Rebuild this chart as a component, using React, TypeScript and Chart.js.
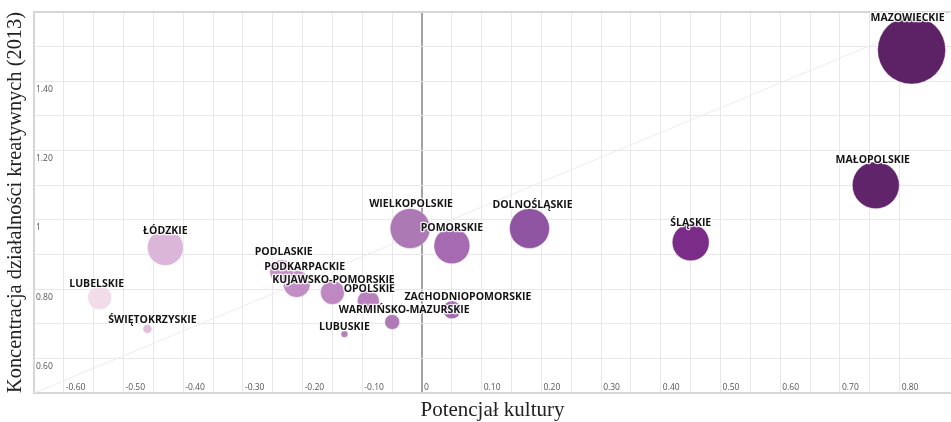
import React, { useEffect, useRef } from "react";
import { Chart, registerables } from "chart.js";

Chart.register(...registerables);

// ---- data ----
const regions = [
  "MAZOWIECKIE",
  "MAŁOPOLSKIE",
  "ŚLĄSKIE",
  "DOLNOŚLĄSKIE",
  "WIELKOPOLSKIE",
  "POMORSKIE",
  "ZACHODNIOPOMORSKIE",
  "WARMIŃSKO-MAZURSKIE",
  "LUBUSKIE",
  "OPOLSKIE",
  "KUJAWSKO-POMORSKIE",
  "PODKARPACKIE",
  "PODLASKIE",
  "ŁÓDZKIE",
  "LUBELSKIE",
  "ŚWIĘTOKRZYSKIE",
];
const culturePotential = [0.82, 0.76, 0.45, 0.18, -0.02, 0.05, 0.05, -0.05, -0.13, -0.09, -0.15, -0.21, -0.235, -0.43, -0.54, -0.46];
const creativeConcentration = [1.49, 1.1, 0.935, 0.975, 0.975, 0.925, 0.74, 0.705, 0.67, 0.765, 0.79, 0.815, 0.85, 0.92, 0.775, 0.685];
const bubbleSize = [34, 23.5, 18.5, 20, 20, 18, 9, 7.5, 3.5, 11, 12, 13.5, 12, 18, 12, 4.5];

const trendX = [-0.65, 0.886];
const trendY = [0.5, 1.6];

const xTickValues = [-0.6, -0.5, -0.4, -0.3, -0.2, -0.1, 0, 0.1, 0.2, 0.3, 0.4, 0.5, 0.6, 0.7, 0.8];
const xTickLabels = ["-0.60", "-0.50", "-0.40", "-0.30", "-0.20", "-0.10", "0", "0.10", "0.20", "0.30", "0.40", "0.50", "0.60", "0.70", "0.80"];
const yTickValues = [0.6, 0.8, 1, 1.2, 1.4];
const yTickLabels = ["0.60", "0.80", "1", "1.20", "1.40"];

// ---- styles ----
const bubbleColors = [
  "#5c2265", "#5f2469", "#7b2b88", "#8f55a2", "#ad79b5", "#a56ab1", "#a56cb1", "#b07ab6",
  "#b380b8", "#b880bd", "#be88c2", "#c28cc5", "#c590c7", "#dcb6d8", "#f2dcea", "#e2c0dc",
];
// label centre offset from bubble centre (px)
const labelOffsets: [number, number][] = [
  [-4, -32], [-3, -25], [0, -19], [3, -23], [1, -24], [0, -18], [16, -13], [12, -12],
  [0, -7], [1, -12], [1, -13], [8, -17], [2, -20], [0, -17], [-3, -14], [5, -9],
];

const findLabel = (v: number, values: number[], labels: string[]) => {
  for (let i = 0; i < values.length; i++) {
    if (Math.abs(values[i] - v) < 1e-6) return labels[i];
  }
  return "";
};

const labelPlugin = {
  id: "bubbleLabels",
  afterDatasetsDraw(chart: any) {
    const meta = chart.getDatasetMeta(0);
    const ctx = chart.ctx as CanvasRenderingContext2D;
    ctx.save();
    ctx.font = 'bold 10.5px "Open Sans"';
    ctx.textAlign = "center";
    ctx.textBaseline = "middle";
    ctx.lineJoin = "round";
    meta.data.forEach((el: any, i: number) => {
      const [dx, dy] = labelOffsets[i];
      const x = el.x + dx;
      const y = el.y + dy;
      ctx.strokeStyle = "rgba(255,255,255,0.85)";
      ctx.lineWidth = 2.5;
      ctx.strokeText(regions[i], x, y);
      ctx.fillStyle = "#141414";
      ctx.fillText(regions[i], x, y);
    });
    ctx.restore();
  },
};

export default function App() {
  const ref = useRef<HTMLCanvasElement | null>(null);

  useEffect(() => {
    if (!ref.current) return;
    const chart = new Chart(ref.current, {
      type: "bubble",
      data: {
        datasets: [
          {
            type: "bubble",
            label: "Województwa",
            data: regions.map((_, i) => ({ x: culturePotential[i], y: creativeConcentration[i], r: bubbleSize[i] })),
            backgroundColor: bubbleColors,
            borderColor: "rgba(255,255,255,0.45)",
            borderWidth: 1,
            order: 0,
          } as any,
          {
            type: "line",
            label: "trend",
            data: trendX.map((x, i) => ({ x, y: trendY[i] })),
            borderColor: "#ececec",
            borderWidth: 1,
            pointRadius: 0,
            fill: false,
            order: 1,
          } as any,
        ],
      },
      options: {
        responsive: false,
        animation: false,
        layout: { autoPadding: false, padding: { left: 0, top: 12, right: 0, bottom: 0 } },
        plugins: { legend: { display: false }, tooltip: { enabled: false } },
        scales: {
          x: {
            type: "linear",
            position: "bottom",
            min: -0.65,
            max: 0.886,
            ticks: {
              stepSize: 0.05,
              autoSkip: false,
              maxRotation: 0,
              mirror: true,
              align: "start",
              labelOffset: 2,
              padding: 0,
              color: "#555",
              font: { family: "Open Sans", size: 8.5 },
              callback: (v: any) => findLabel(Number(v), xTickValues, xTickLabels),
            },
            grid: {
              drawTicks: false,
              color: (c: any) => (c.tick && Math.abs(c.tick.value) < 1e-6 ? "#a3a3a3" : "#e8e8e8"),
              lineWidth: (c: any) => (c.tick && Math.abs(c.tick.value) < 1e-6 ? 2 : 1),
            },
            border: { display: true, color: "#d6d6d6", width: 2 },
            title: {
              display: true,
              text: "Potencjał kultury",
              color: "#222",
              font: { family: "Liberation Serif", size: 21 },
              padding: { top: 5, bottom: -1.2 },
            },
          },
          y: {
            type: "linear",
            min: 0.5,
            max: 1.6,
            ticks: {
              stepSize: 0.1,
              autoSkip: false,
              mirror: true,
              padding: 2,
              labelOffset: 8,
              color: "#555",
              font: { family: "Open Sans", size: 8.5 },
              callback: (v: any) => findLabel(Number(v), yTickValues, yTickLabels),
            },
            grid: {
              drawTicks: false,
              color: (c: any) => (c.tick && Math.abs(c.tick.value - 1.6) < 1e-6 ? "#d6d6d6" : "#e8e8e8"),
              lineWidth: (c: any) => (c.tick && Math.abs(c.tick.value - 1.6) < 1e-6 ? 2 : 1),
            },
            border: { display: true, color: "#d6d6d6", width: 2 },
            title: {
              display: true,
              text: "Koncentracja działalności kreatywnych (2013)",
              color: "#222",
              font: { family: "Liberation Serif", size: 20.4 },
              padding: { top: 3.3, bottom: 2.2 },
            },
          },
        },
      },
      plugins: [labelPlugin],
    });
    return () => chart.destroy();
  }, []);

  return (
    <div style={{ position: "absolute", left: 0, top: 0, width: 951, height: 422, background: "#fff" }}>
      <canvas ref={ref} width={951} height={422} style={{ display: "block", width: 951, height: 422 }} />
    </div>
  );
}
